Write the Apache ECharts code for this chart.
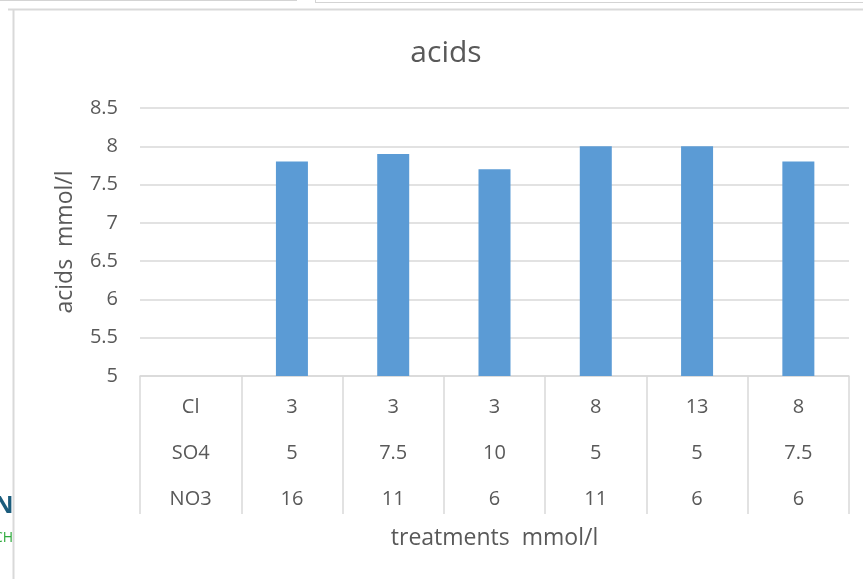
<!DOCTYPE html>
<html>
<head>
<meta charset="utf-8">
<script src="https://cdn.jsdelivr.net/npm/echarts@6/dist/echarts.min.js"></script>
<style>
  html, body { margin: 0; padding: 0; background: #fff; }
  #chart { width: 863px; height: 579px; }
</style>
</head>
<body>
<div id="chart"></div>
<script>
// Treatment table rows shown under the bars (first column holds the row names)
const rowNames = ['Cl', 'SO4', 'NO3'];
const clValues = ['3', '3', '3', '8', '13', '8'];
const so4Values = ['5', '7.5', '10', '5', '5', '7.5'];
const no3Values = ['16', '11', '6', '11', '6', '6'];

// Measured acids (mmol/l) per treatment
const acidValues = [7.8, 7.9, 7.7, 8.0, 8.0, 7.8];

// Y axis range
const yMin = 5, yMax = 8.5, yStep = 0.5;

// Build categories: header column + one column per treatment
const categories = [rowNames.join('\n')];
for (let i = 0; i < clValues.length; i++) {
  categories.push([clValues[i], so4Values[i], no3Values[i]].join('\n'));
}
const barData = [null].concat(acidValues);

const textColor = '#595959';
const lineColor = '#d9d9d9';
const font = 'Open Sans';

const chart = echarts.init(document.getElementById('chart'));
chart.setOption({
  animation: false,
  backgroundColor: '#fff',
  textStyle: { fontFamily: font },
  title: {
    text: 'acids',
    left: 441, top: 33,
    textAlign: 'center',
    textStyle: { fontSize: 30, fontWeight: 'normal', color: textColor, fontFamily: font }
  },
  grid: { left: 140, right: 14, top: 108, bottom: 203 },
  xAxis: {
    type: 'category',
    data: categories,
    boundaryGap: true,
    name: 'treatments  mmol/l',
    nameLocation: 'middle',
    nameGap: 151,
    nameTextStyle: { fontSize: 23, color: textColor, fontFamily: font },
    axisLine: { show: true, lineStyle: { color: lineColor, width: 1.5 } },
    axisTick: { show: true, interval: 0, length: 138, lineStyle: { color: lineColor, width: 1.5 } },
    axisLabel: {
      interval: 0, margin: 8, lineHeight: 46,
      fontSize: 20, color: textColor, fontFamily: font
    }
  },
  yAxis: {
    type: 'value',
    min: yMin, max: yMax, interval: yStep,
    name: 'acids  mmol/l',
    nameLocation: 'middle',
    nameGap: 63,
    nameRotate: 90,
    nameTextStyle: { fontSize: 23, color: textColor, fontFamily: font },
    axisLine: { show: false },
    axisTick: { show: false },
    axisLabel: { margin: 22, fontSize: 20, color: textColor, fontFamily: font },
    splitLine: { lineStyle: { color: lineColor, width: 1.5 } }
  },
  series: [{
    type: 'bar',
    data: barData,
    barWidth: 32,
    itemStyle: { color: '#5b9bd5' }
  }],
  graphic: [
    // frame edges around the chart area
    { type: 'line', shape: { x1: 0, y1: 0.5, x2: 297, y2: 0.5 }, style: { stroke: '#d4d4d4', lineWidth: 1 } },
    { type: 'line', shape: { x1: 315.5, y1: 0, x2: 315.5, y2: 3 }, style: { stroke: '#d4d4d4', lineWidth: 1 } },
    { type: 'line', shape: { x1: 315, y1: 2.5, x2: 863, y2: 2.5 }, style: { stroke: '#d4d4d4', lineWidth: 1 } },
    { type: 'line', shape: { x1: 8, y1: 9.5, x2: 863, y2: 9.5 }, style: { stroke: '#d9d9d9', lineWidth: 2 } },
    { type: 'line', shape: { x1: 13.5, y1: 9, x2: 13.5, y2: 579 }, style: { stroke: '#d9d9d9', lineWidth: 2 } },
    // partial logo text at the left edge
    { type: 'text', left: -6, top: 494, style: { text: 'N', fontSize: 24, fontWeight: 'bold', fill: '#1b5c7c', fontFamily: font } },
    { type: 'text', left: -6, top: 531, style: { text: 'CH', fontSize: 14, fill: '#2eaa3c', fontFamily: font } }
  ]
});
</script>
</body>
</html>
